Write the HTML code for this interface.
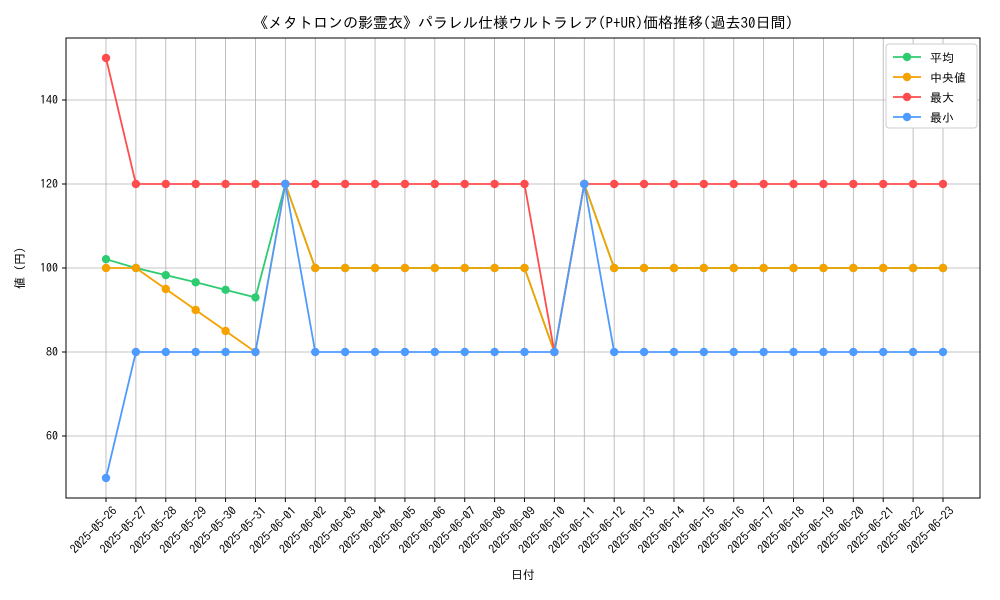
<!DOCTYPE html>
<html><head><meta charset="utf-8"><style>
body{margin:0;background:#fff;}
svg{display:block;font-family:"IPAGothic","Liberation Sans","Noto Sans CJK JP",sans-serif;}
</style></head><body>
<svg id="c" width="1000" height="600"></svg>
<script>
const dates=["2025-05-26","2025-05-27","2025-05-28","2025-05-29","2025-05-30","2025-05-31","2025-06-01","2025-06-02","2025-06-03","2025-06-04","2025-06-05","2025-06-06","2025-06-07","2025-06-08","2025-06-09","2025-06-10","2025-06-11","2025-06-12","2025-06-13","2025-06-14","2025-06-15","2025-06-16","2025-06-17","2025-06-18","2025-06-19","2025-06-20","2025-06-21","2025-06-22","2025-06-23"];
const meanVals=[102.1,100,98.3,96.6,94.8,93,120,100,100,100,100,100,100,100,100,80,120,100,100,100,100,100,100,100,100,100,100,100,100];
const medianVals=[100,100,95,90,85,80,120,100,100,100,100,100,100,100,100,80,120,100,100,100,100,100,100,100,100,100,100,100,100];
const maxVals=[150,120,120,120,120,120,120,120,120,120,120,120,120,120,120,80,120,120,120,120,120,120,120,120,120,120,120,120,120];
const minVals=[50,80,80,80,80,80,120,80,80,80,80,80,80,80,80,80,120,80,80,80,80,80,80,80,80,80,80,80,80];
const yTicks=[60,80,100,120,140];
const seriesNames=["平均","中央値","最大","最小"];
const NS="http://www.w3.org/2000/svg";
const svg=document.getElementById('c');
const L=66,R=980,T=38,B=498;
const x=i=>106+i*(943-106)/(dates.length-1);
const y=v=>268-(v-100)*4.2;
function el(t,a,p){const e=document.createElementNS(NS,t);for(const k in a)e.setAttribute(k,a[k]);(p||svg).appendChild(e);return e;}
dates.forEach((d,i)=>{const g=el('line',{x1:x(i),x2:x(i),y1:T,y2:B,stroke:'#b0b0b0','stroke-width':0.8});


const tk=el('line',{x1:x(i),x2:x(i),y1:B,y2:B+4,stroke:'#000'});


const t=el('text',{x:x(i)+6,y:B+8,'font-size':12,'text-anchor':'end',transform:`rotate(-45 ${x(i)+6} ${B+8})`,'dominant-baseline':'hanging'});
t.textContent=d;


});
yTicks.forEach(v=>{const g=el('line',{x1:L,x2:R,y1:y(v),y2:y(v),stroke:'#b0b0b0','stroke-width':0.8});


el('line',{x1:L-4,x2:L,y1:y(v),y2:y(v),stroke:'#000'});
const t=el('text',{x:L-8,y:y(v)+4,'font-size':12,'text-anchor':'end'});t.textContent=v;


});
const fr=el('rect',{x:L,y:T,width:R-L,height:B-T,fill:'none',stroke:'#000','stroke-width':1});


const colors=["#2ecc71","#f5a100","#ff4d4d","#4d9bff"];
const data=[meanVals,medianVals,maxVals,minVals];
const snames=["series-mean","series-median","series-max","series-min"];
data.forEach((arr,s)=>{
const g=el('g',{});


el('polyline',{points:arr.map((v,i)=>x(i)+','+y(v)).join(' '),fill:'none',stroke:colors[s],'stroke-width':1.8},g);
arr.forEach((v,i)=>{const c=el('circle',{cx:x(i),cy:y(v),r:4.2,fill:colors[s]},g);

});
});
const lg=el('g',{});


el('rect',{x:886,y:44,width:91,height:84,fill:'#fff',stroke:'#ccc',rx:3},lg);
seriesNames.forEach((n,i)=>{const yy=57+i*20;
const e=el('g',{},lg);


el('line',{x1:893,x2:921,y1:yy,y2:yy,stroke:colors[i],'stroke-width':1.8},e);
el('circle',{cx:907,cy:yy,r:4.2,fill:colors[i]},e);
const t=el('text',{x:930,y:yy+5,'font-size':12},e);t.textContent=(i==1?' ':'')+n;});
const tt=el('text',{x:523,y:28,'font-size':15,'text-anchor':'middle'});
tt.textContent="《メタトロンの影霊衣》パラレル仕様ウルトラレア(P+UR)価格推移(過去30日間)";


const xl=el('text',{x:523,y:579,'font-size':12,'text-anchor':'middle'});xl.textContent="日付";


const yl=el('text',{x:24,y:268,'font-size':12,'text-anchor':'middle',transform:'rotate(-90 24 268)'});yl.textContent="値 (円)";


</script>
</body></html>
